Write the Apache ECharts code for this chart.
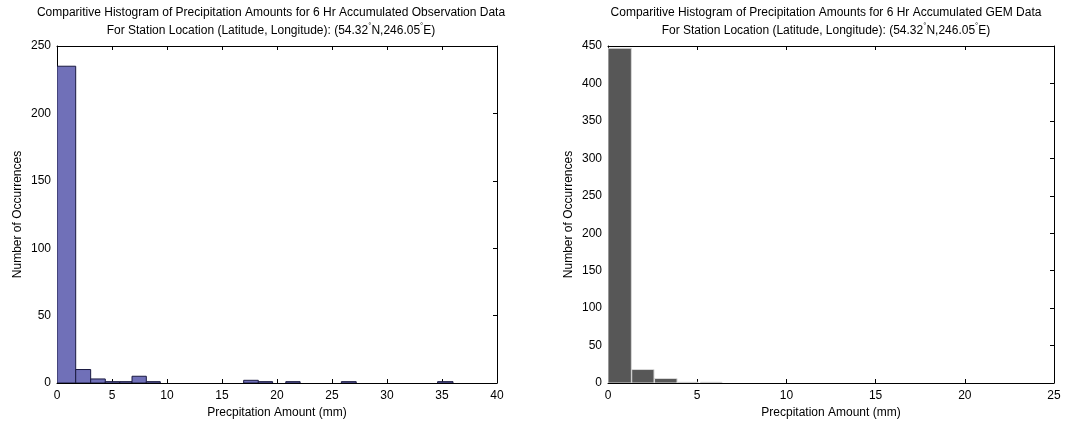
<!DOCTYPE html>
<html>
<head>
<meta charset="utf-8">
<script src="https://cdn.jsdelivr.net/npm/echarts@6/dist/echarts.min.js"></script>
<style>html,body{margin:0;padding:0;background:#fff}#c{width:1077px;height:427px}</style>
</head>
<body>
<div id="c"></div>
<script>
// Observation histogram: bin left edges, right edges, counts
const obsLeft  = [0,    1.70, 3.06, 4.39, 5.70, 6.82, 8.12, 16.97, 18.30, 20.80, 25.85, 34.60];
const obsRight = [1.70, 3.06, 4.39, 5.70, 6.82, 8.12, 9.39, 18.30, 19.60, 22.10, 27.20, 36.00];
const obsCount = [235,  10,   3,    1,    1,    5,    1,    2,     1,     1,     1,     1];
// GEM histogram
const gemLeft  = [0,    1.33, 2.61, 3.90, 5.19];
const gemRight = [1.31, 2.58, 3.87, 5.05, 6.39];
const gemCount = [447,  18,   6,    1,    1];
// Axis ticks
const obsXTicks = [0, 5, 10, 15, 20, 25, 30, 35, 40];
const obsYTicks = [0, 50, 100, 150, 200, 250];
const gemXTicks = [0, 5, 10, 15, 20, 25];
const gemYTicks = [0, 50, 100, 150, 200, 250, 300, 350, 400, 450];

const titleObs = 'Comparitive Histogram of Precipitation Amounts for 6 Hr Accumulated Observation Data';
const titleGem = 'Comparitive Histogram of Precipitation Amounts for 6 Hr Accumulated GEM Data';
const titleLoc = 'For Station Location (Latitude, Longitude): (54.32{s|°}N,246.05{s|°}E)';
const xName = 'Precpitation Amount (mm)';
const yName = 'Number of Occurrences';

const FONT = '"Liberation Sans", Arial, sans-serif';
const chart = echarts.init(document.getElementById('c'));

function rows(l, r, c) { return l.map((v, i) => [v, r[i], c[i]]); }

function axisPair(gi, min, max, interval, isX, showLabel, pos, name) {
  const o = {
    type: 'value', gridIndex: gi, min: min, max: max, interval: interval,
    position: pos,
    axisLine: { show: true, onZero: false, lineStyle: { color: '#000', width: 1 } },
    axisTick: { show: true, inside: true, length: 4, lineStyle: { color: '#000' } },
    splitLine: { show: false },
    axisLabel: { show: showLabel, color: '#000', fontFamily: FONT, fontSize: 12, margin: isX ? 7 : 6 }
  };
  if (name) {
    o.name = name; o.nameLocation = 'middle';
    o.nameTextStyle = { color: '#000', fontFamily: FONT, fontSize: 12 };
    o.nameGap = isX ? 24 : 33;
  }
  return o;
}

function renderer(fill, stroke) {
  return function (params, api) {
    const p0 = api.coord([api.value(0), api.value(2)]);
    const p1 = api.coord([api.value(1), 0]);
    return {
      type: 'rect',
      shape: { x: p0[0], y: p0[1], width: p1[0] - p0[0], height: p1[1] - p0[1] },
      style: { fill: fill, stroke: stroke, lineWidth: 1 }
    };
  };
}

const titleStyle = { color: '#000', fontFamily: FONT, fontSize: 12, fontWeight: 'normal', lineHeight: 18,
  rich: { s: { fontSize: 8, verticalAlign: 'top', padding: [0, 0, 8, 0], fontFamily: FONT } } };

chart.setOption({
  animation: false,
  backgroundColor: '#fff',
  title: [
    { text: titleObs + '\n' + titleLoc, left: 266, top: -1, textAlign: 'center', textStyle: titleStyle },
    { text: titleGem + '\n' + titleLoc, left: 821, top: -1, textAlign: 'center', textStyle: titleStyle }
  ],
  grid: [
    { left: 57, top: 46, width: 440, height: 337 },
    { left: 608, top: 46, width: 446, height: 337 }
  ],
  xAxis: [
    axisPair(0, 0, 40, 5, true, true, 'bottom', xName),
    axisPair(0, 0, 40, 5, true, false, 'top'),
    axisPair(1, 0, 25, 5, true, true, 'bottom', xName),
    axisPair(1, 0, 25, 5, true, false, 'top')
  ],
  yAxis: [
    axisPair(0, 0, 250, 50, false, true, 'left', yName),
    axisPair(0, 0, 250, 50, false, false, 'right'),
    axisPair(1, 0, 450, 50, false, true, 'left', yName),
    axisPair(1, 0, 450, 50, false, false, 'right')
  ],
  series: [
    { type: 'custom', xAxisIndex: 0, yAxisIndex: 0, data: rows(obsLeft, obsRight, obsCount),
      encode: { x: [0, 1], y: 2 }, renderItem: renderer('#7070b8', '#1a1a40'), clip: true },
    { type: 'custom', xAxisIndex: 2, yAxisIndex: 2, data: rows(gemLeft, gemRight, gemCount),
      encode: { x: [0, 1], y: 2 }, renderItem: renderer('#575757', '#d8d8d8'), clip: true }
  ]
});
</script>
</body>
</html>
